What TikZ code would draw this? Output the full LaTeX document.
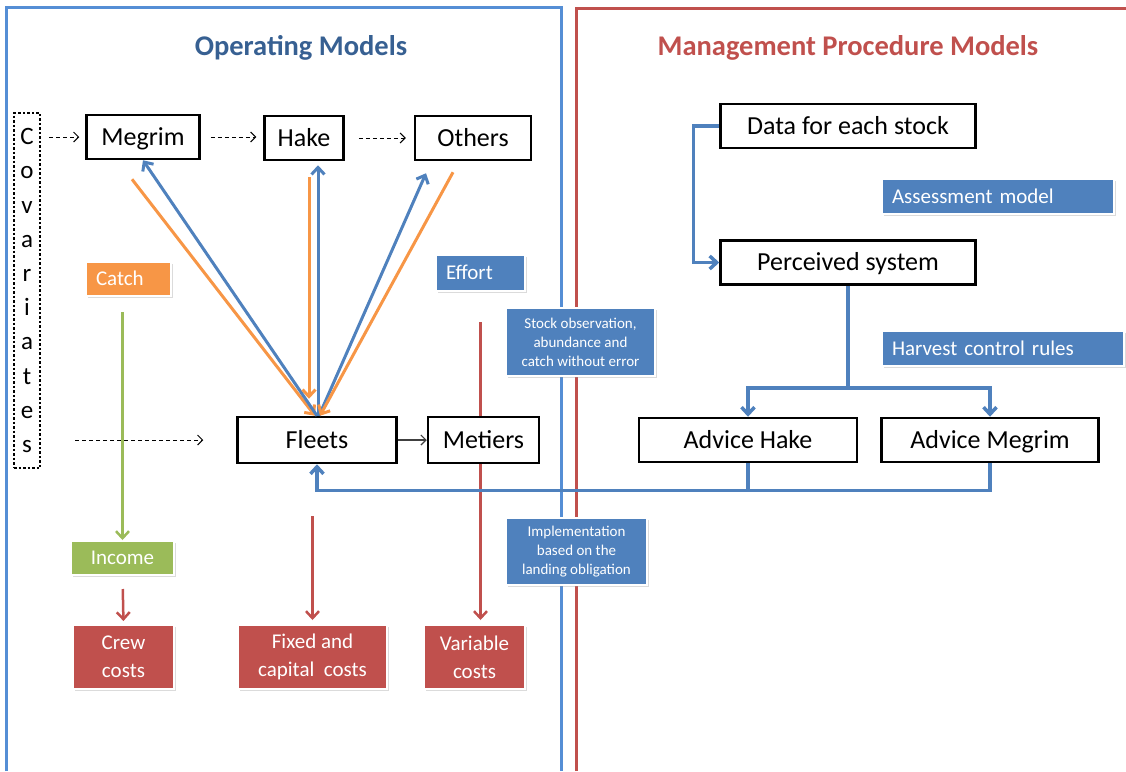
\documentclass[tikz,border=0pt]{standalone}
\usepackage{fontspec}
\setmainfont{Carlito}
\usepackage{tikz}
\usetikzlibrary{positioning,arrows.meta,shadows}
\definecolor{omblue}{HTML}{4F81BD}
\definecolor{omorange}{HTML}{F79646}
\definecolor{omgreen}{HTML}{9BBB59}
\definecolor{omred}{HTML}{C0504D}
\definecolor{paneblue}{HTML}{558ED5}
\definecolor{titleblue}{HTML}{376092}
\newcommand{\twoline}[2]{#1\\#2}
\newcommand{\threeline}[3]{#1\\#2\\#3}

\begin{document}
\begin{tikzpicture}[
    x=1pt, y=-1pt,
    >={Straight Barb[length=7pt,width=13pt]},
    model/.style={draw, line width=2.5pt, fill=white, inner sep=0pt,
                  font=\fontsize{26}{30}\selectfont, minimum height=44pt,
                  text height=20pt, text depth=3.3pt},
    tag/.style={fill=#1, draw=white, line width=2pt, text=white,
                align=center, inner sep=0pt,
                font=\fontsize{21}{28}\selectfont,
                drop shadow={shadow xshift=1.5pt, shadow yshift=-2pt,
                             fill=black!40, opacity=.35}},
    oneline/.style={text height=16pt, text depth=2.5pt},
    leftag/.style={oneline, align=left, inner xsep=10pt, text width=#1},
    note/.style={tag=omblue, font=\fontsize{15}{19}\selectfont},
    title/.style={font=\fontsize{28.5}{32}\selectfont\bfseries},
    covlink/.style={-{Straight Barb[length=5pt,width=10pt]}, line width=1pt,
                    dash pattern=on 4pt off 3pt},
    flow/.style={->, line width=3pt},
    cost/.style={->, line width=2.5pt, omred},
    mp/.style={line width=3.5pt, omblue}]

    \useasboundingbox (0,0) rectangle (1126,771);

    \draw[paneblue, line width=3pt] (6,771) -- (6,7) -- (561,7) -- (561,771);
    \draw[omred, line width=3pt] (576,771) -- (576,8) -- (1126,8);

    \node[title, text=titleblue] (omtitle) at (301,48) {Operating Models};
    \node[title, text=omred] (mptitle) at (848,48) {Management Procedure Models};

    \node[draw, line width=2.5pt, dash pattern=on 2.5pt off 2pt, inner sep=0pt,
          minimum width=26pt, minimum height=355pt, align=center,
          font=\fontsize{25}{34.2}\selectfont] (cov) at (27,290.5)
          {C\\o\\v\\a\\r\\i\\a\\t\\e\\s};

    \node[model, minimum width=113pt] (megrim) at (143,137) {Megrim};
    \node[model, minimum width=79pt] (hake) at (304,138) {Hake};
    \node[model, minimum width=116pt] (others) at (473,138) {Others};
    \node[model, minimum width=159pt, minimum height=46pt] (fleets) at (317,440) {Fleets};

    \node[tag=omorange, leftag=65pt, minimum height=34pt] (catch) at (128.5,279) {Catch};
    \node[tag=omblue, leftag=69pt, minimum height=36pt] (effort) at (480.5,273) {Effort};
    \node[tag=omgreen, oneline, minimum width=103pt, minimum height=34pt] (income) at (122.5,558) {Income};
    \node[tag=omred, minimum width=101pt, minimum height=64pt] (crew) at (123.5,657) {\twoline{Crew}{costs}};
    \node[tag=omred, minimum width=149pt, minimum height=64pt] (fixed) at (312.5,657) {\twoline{Fixed and}{capital\ \ costs}};
    \node[tag=omred, minimum width=101pt, minimum height=64pt] (var) at (474.5,657) {\twoline{Variable}{costs}};

    \draw[cost, shorten <=30pt, shorten >=4pt] (effort.south) -- (effort.south |- var.north);
    \node[model, minimum width=111pt, minimum height=46pt, right=29pt of fleets] (metiers) {Metiers};

    \node[note, minimum width=149pt, minimum height=68pt] (obs) at (580.5,342)
          {\threeline{Stock observation,}{abundance and}{catch without error}};
    \node[note, minimum width=141pt, minimum height=67pt] (impl) at (576.5,551.5)
          {\threeline{Implementation}{based on the}{landing obligation}};

    \node[model, minimum width=255pt] (data) at (848,126) {Data for each stock};
    \node[model, minimum width=255pt, below=90pt of data] (perc) {Perceived system};
    \node[model, minimum width=218pt] (advh) at (748,440) {Advice Hake};
    \node[model, minimum width=217pt, right=22pt of advh] (advm) {Advice Megrim};
    \node[tag=omblue, leftag=212pt, minimum height=35pt] (assess) at (998,196.5) {Assessment model};
    \node[tag=omblue, leftag=222pt, minimum height=35pt] (hcr) at (1003,348.5) {Harvest control rules};

    \draw[covlink, shorten <=8pt, shorten >=6pt] (cov.east |- megrim) -- (megrim.west);
    \draw[covlink, shorten <=10pt, shorten >=7pt] (megrim.east) -- (hake.west |- megrim.east);
    \draw[covlink, shorten <=14pt, shorten >=8pt] (hake.east) -- (others.west);
    \draw[covlink, shorten <=34pt, shorten >=33pt] (cov.east |- fleets) -- (fleets.west);
    \draw[-{Straight Barb[length=5pt,width=10pt]}, line width=1.2pt, black!75] (fleets) -- (metiers);

    \draw[flow, omorange] ([shift={(-11pt,-19pt)}]megrim.south) -- ([xshift=-2pt]fleets.north);
    \draw[flow, omblue] (fleets.north) -- (megrim.south);
    \draw[flow, omorange] ([shift={(5pt,-16pt)}]hake.south) -- ([shift={(-8pt,17pt)}]fleets.north);
    \draw[flow, omblue] ([xshift=1pt]fleets.north) -- ([shift={(14pt,-4pt)}]hake.south);
    \draw[flow, omblue] ([xshift=2pt]fleets.north) -- ([shift={(-47pt,-12pt)}]others.south);
    \draw[flow, omorange] ([shift={(-20pt,-11pt)}]others.south) -- ([xshift=3pt]fleets.north);

    \draw[->, line width=2.5pt, omgreen, shorten <=15pt] (catch.south -| income) -- (income.north);
    \draw[cost, shorten <=13pt, shorten >=3pt] (income.south) -- (crew.north);
    \draw[cost, shorten <=52pt, shorten >=4pt] (fleets.south -| fixed) -- (fixed.north);

    \draw[mp, ->] (data.west) -- ++(-26pt,0) |- (perc.west);
    \coordinate (split) at ([yshift=-102pt]perc.south);
    \draw[mp] (perc.south) -- (split);
    \draw[mp, ->] (split) -| (advh.north);
    \draw[mp, ->] (split) -| (advm.north);
    \coordinate (back) at ([yshift=-27pt]advh.south);
    \draw[mp] (advm.south) |- (back);
    \draw[mp, ->] (advh.south) |- (back -| fleets) -- (fleets.south);

\end{tikzpicture}
\end{document}
